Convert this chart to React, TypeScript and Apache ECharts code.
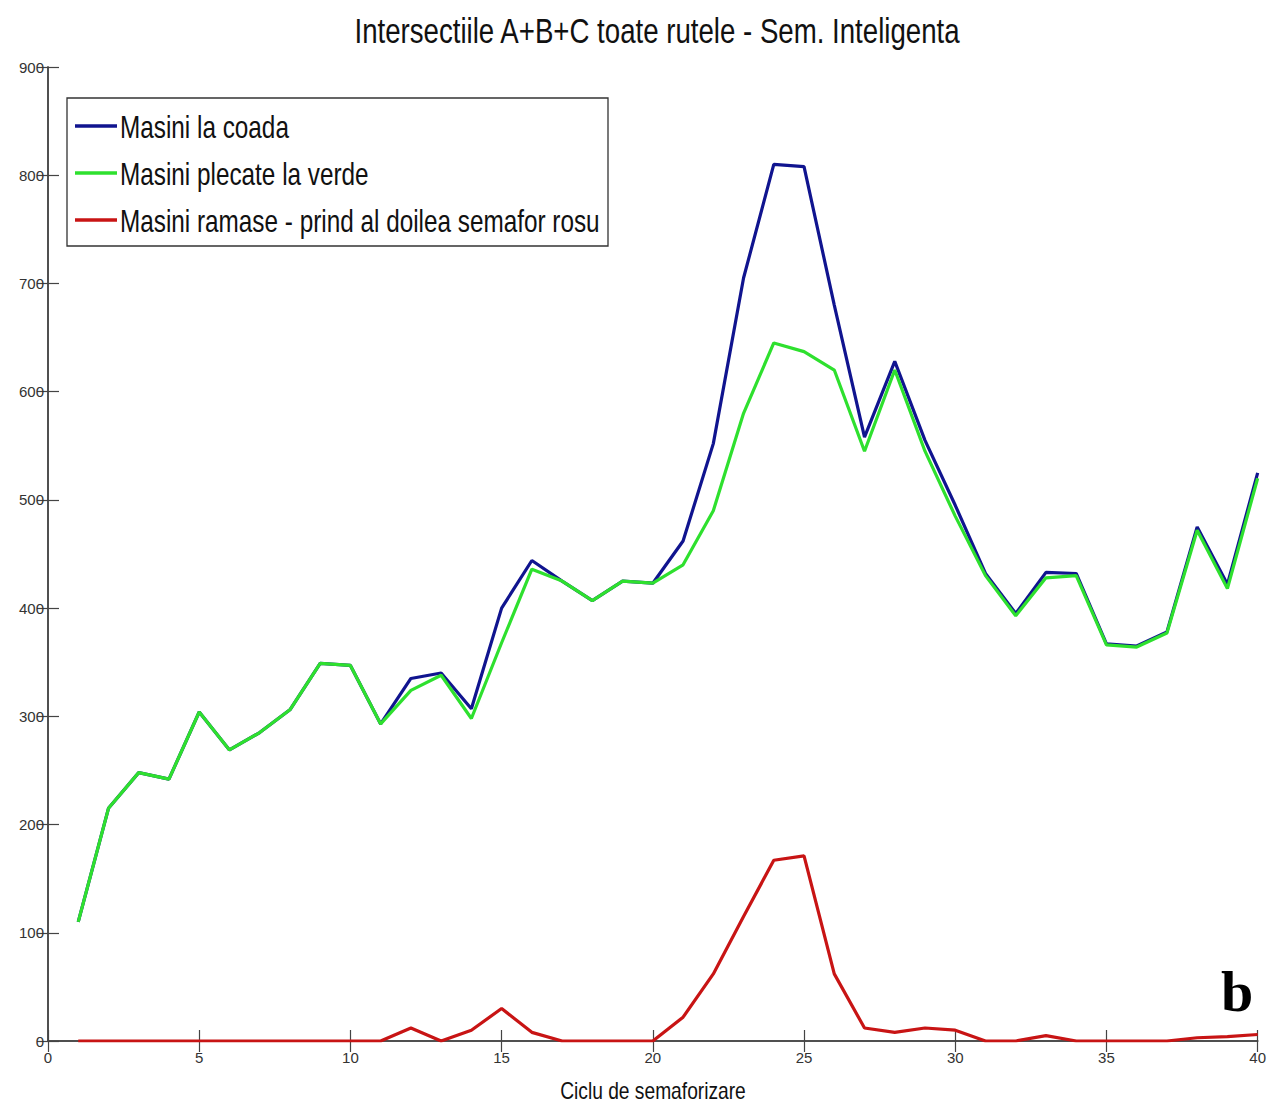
import React, { useEffect, useRef } from "react";
import * as echarts from "echarts";

const cycles = [1,2,3,4,5,6,7,8,9,10,11,12,13,14,15,16,17,18,19,20,21,22,23,24,25,26,27,28,29,30,31,32,33,34,35,36,37,38,39,40];
const masiniCoada = [110,215,248,242,304,269,285,306,349,347,293,335,340,307,400,444,425,407,425,423,462,552,705,810,808,680,558,628,555,495,432,395,433,432,367,365,378,475,422,525];
const masiniPlecate = [110,215,248,242,304,269,285,306,349,347,293,324,338,298,368,436,425,407,425,423,440,490,580,645,637,620,545,620,545,485,430,393,428,430,366,364,377,472,418,520];
const masiniRamase = [0,0,0,0,0,0,0,0,0,0,0,12,0,10,30,8,0,0,0,0,22,62,115,167,171,62,12,8,12,10,0,0,5,0,0,0,0,3,4,6];
const seriesNames = ["Masini la coada", "Masini plecate la verde", "Masini ramase - prind al doilea semafor rosu"];
const seriesColors = ["#10148f", "#2ee02e", "#c81414"];
const titleText = "Intersectiile A+B+C toate rutele - Sem. Inteligenta";
const xAxisName = "Ciclu de semaforizare";
const panelLetter = "b";

const SANS = "'Liberation Sans', Arial, sans-serif";

export default function App() {
  const ref = useRef<HTMLDivElement>(null);
  useEffect(() => {
    if (!ref.current) return;
    const chart = echarts.init(ref.current, undefined, { renderer: "svg" });
    const pair = (arr: number[]) => cycles.map((c, i) => [c, arr[i]]);
    const axisLine = { show: true, lineStyle: { color: "#444", width: 1.5 } };
    const tick = { show: true, inside: true, length: 11, lineStyle: { color: "#444", width: 1.2 } };

    const legendItems: any[] = [];
    seriesNames.forEach((name, i) => {
      const cy = 126 + i * 47;
      legendItems.push({
        type: "line",
        shape: { x1: 75, y1: cy, x2: 117, y2: cy },
        style: { stroke: seriesColors[i], lineWidth: 3.5 },
        z: 101,
      });
      legendItems.push({
        type: "text",
        x: 120,
        y: cy + 1,
        scaleX: 0.76,
        z: 101,
        style: { text: name, font: `32px ${SANS}`, fill: "#111", textAlign: "left", textVerticalAlign: "middle" },
      });
    });

    chart.setOption({
      animation: false,
      backgroundColor: "#ffffff",
      grid: { left: 48, top: 67, width: 1210, height: 974, containLabel: false },
      xAxis: [
        {
          type: "value",
          min: 0,
          max: 40,
          interval: 5,
          position: "bottom",
          axisLine,
          axisTick: tick,
          splitLine: { show: false },
          axisLabel: { margin: 9, fontFamily: SANS, fontSize: 15, color: "#333" },
        },
        {
          type: "value",
          min: 0,
          max: 40,
          interval: 5,
          position: "top",
          axisLine,
          axisTick: tick,
          splitLine: { show: false },
          axisLabel: { show: false },
        },
      ],
      yAxis: [
        {
          type: "value",
          min: 0,
          max: 900,
          interval: 100,
          position: "left",
          axisLine,
          axisTick: tick,
          splitLine: { show: false },
          axisLabel: { margin: 4, fontFamily: SANS, fontSize: 15, color: "#333" },
        },
        {
          type: "value",
          min: 0,
          max: 900,
          interval: 100,
          position: "right",
          axisLine,
          axisTick: tick,
          splitLine: { show: false },
          axisLabel: { show: false },
        },
      ],
      series: [masiniCoada, masiniPlecate, masiniRamase].map((arr, i) => ({
        name: seriesNames[i],
        type: "line",
        data: pair(arr),
        xAxisIndex: 0,
        yAxisIndex: 0,
        showSymbol: false,
        symbol: "none",
        color: seriesColors[i],
        lineStyle: { color: seriesColors[i], width: 3.2 },
        z: 2 + i,
      })),
      graphic: [
        {
          type: "text",
          x: 657,
          y: 31,
          scaleX: 0.79,
          z: 100,
          style: { text: titleText, font: `35px ${SANS}`, fill: "#111", textAlign: "center", textVerticalAlign: "middle" },
        },
        {
          type: "text",
          x: 653,
          y: 1091,
          scaleX: 0.8,
          z: 100,
          style: { text: xAxisName, font: `24px ${SANS}`, fill: "#111", textAlign: "center", textVerticalAlign: "middle" },
        },
        {
          type: "rect",
          shape: { x: 67, y: 98, width: 541, height: 148 },
          style: { fill: "#fff", stroke: "#333", lineWidth: 1.3 },
          z: 100,
        },
        ...legendItems,
        {
          type: "text",
          x: 1221,
          y: 962,
          z: 100,
          style: { text: panelLetter, font: `bold 58px 'Liberation Serif', 'Times New Roman', serif`, fill: "#000" },
        },
      ],
    });
    return () => chart.dispose();
  }, []);
  return (
    <div
      ref={ref}
      style={{ position: "absolute", left: 0, top: 0, width: 1269, height: 1105, background: "#fff" }}
    />
  );
}
